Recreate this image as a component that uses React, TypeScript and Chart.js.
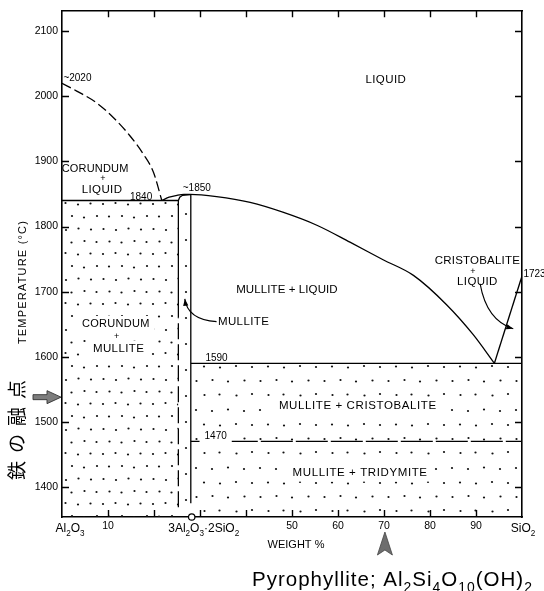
import React, { useEffect, useRef } from 'react';
import { Chart, registerables } from 'chart.js';

Chart.register(...registerables);

// ---------- axes ----------
const X_MIN = 0;
const X_MAX = 100;
const T_MIN = 1354;
const T_MAX = 2132;
const X_TICKS = [0, 10, 20, 30, 40, 50, 60, 70, 80, 90, 100];
const X_TICK_LABELS = ['', '10', '', '', '', '50', '60', '70', '80', '90', ''];
const Y_TICKS = [1400, 1500, 1600, 1700, 1800, 1900, 2000, 2100];

// ---------- phase boundaries (wt% SiO2, °C) ----------
const CORUNDUM_LIQ_X = [0, 3.2, 7.5, 11.2, 14.8, 17.7, 19.9, 21.7];
const CORUNDUM_LIQ_T = [2020, 2008, 1990, 1967, 1939, 1911, 1883, 1840];

const MULLITE_LIQ_X = [21.7, 23.3, 25.0, 26.5, 27.9, 33.6, 40.9, 48.0, 55.4, 62.6, 69.8, 76.4, 83.6, 89.4, 94.0];
const MULLITE_LIQ_T = [1840, 1845, 1848, 1849.5, 1849.5, 1846, 1837, 1822, 1802, 1776, 1749, 1725, 1680, 1634, 1590];

const CRISTOBALITE_LIQ_X = [94.0, 100];
const CRISTOBALITE_LIQ_T = [1590, 1724];

const SOLIDUS_1840_X = [0, 25.3];
const SOLIDUS_1840_T = [1840, 1840];

const MULLITE_LEFT_SOLID_X = [25.3, 25.3, 25.6, 26.2, 28.0];
const MULLITE_LEFT_SOLID_T = [1660, 1840, 1845, 1848, 1849];
const MULLITE_LEFT_DASH_X = [25.3, 25.3];
const MULLITE_LEFT_DASH_T = [1369, 1660];
const MULLITE_RIGHT_X = [28.0, 28.0];
const MULLITE_RIGHT_T = [1375, 1849];

const SOLIDUS_1590_X = [28.0, 100];
const SOLIDUS_1590_T = [1590, 1590];
const INVERSION_1470_X = [28.0, 100];
const INVERSION_1470_T = [1470, 1470];

const MULLITE_COMP = 28.2; // 3Al2O3·2SiO2
const IRON_MP = 1538; // melting point of iron
const PYRO_X = 70.2; // pyrophyllite marker

// ---------- annotations ----------
type Lbl = { text: string; x: number; t: number; size?: number; align?: CanvasTextAlign; bg?: boolean; ls?: number };
const LABELS: Lbl[] = [
  { text: 'LIQUID', x: 70.4, t: 2025 },
  { text: '~2020', x: 0.3, t: 2028, size: 10, align: 'left' },
  { text: 'CORUNDUM', x: 7.2, t: 1888, size: 11, ls: 0.2 },
  { text: '+', x: 8.9, t: 1873, size: 9 },
  { text: 'LIQUID', x: 8.7, t: 1857 },
  { text: '1840', x: 17.2, t: 1845, size: 10 },
  { text: '~1850', x: 29.3, t: 1859, size: 10 },
  { text: 'MULLITE + LIQUID', x: 48.9, t: 1703, ls: 0.1 },
  { text: 'MULLITE', x: 33.9, t: 1654, align: 'left' },
  { text: 'CRISTOBALITE', x: 90.3, t: 1747, ls: 0.2 },
  { text: '+', x: 89.3, t: 1731, size: 9 },
  { text: 'LIQUID', x: 90.3, t: 1715 },
  { text: '1723', x: 100.3, t: 1726, size: 10, align: 'left' },
  { text: 'CORUNDUM', x: 11.7, t: 1650, size: 11, ls: 0.3, bg: true },
  { text: '+', x: 11.9, t: 1631, size: 9, bg: true },
  { text: 'MULLITE', x: 12.3, t: 1612, bg: true },
  { text: '1590', x: 33.6, t: 1597, size: 10 },
  { text: 'MULLITE + CRISTOBALITE', x: 64.3, t: 1524.5, ls: 0.6, bg: true },
  { text: '1470', x: 33.4, t: 1478, size: 10, bg: true },
  { text: 'MULLITE + TRIDYMITE', x: 64.8, t: 1421.6, ls: 0.6, bg: true },
];

const FONT = "'Liberation Sans', Arial, sans-serif";

function pts(xs: number[], ts: number[]) {
  return xs.map((x, i) => ({ x, y: ts[i] }));
}

function dotPattern(w: number, h: number, dots: number[][], r = 1.1) {
  const c = document.createElement('canvas');
  c.width = w;
  c.height = h;
  const g = c.getContext('2d')!;
  g.fillStyle = '#111';
  for (const [x, y] of dots) {
    g.beginPath();
    g.arc(x, y, r, 0, Math.PI * 2);
    g.fill();
  }
  return g.createPattern(c, 'repeat')!;
}

function drawChem(ctx: CanvasRenderingContext2D, text: string, x: number, y: number, size: number, align: 'left' | 'center' | 'right') {
  // split into runs: digits following a letter or ')' become subscripts
  const runs: { s: string; sub: boolean }[] = [];
  let prev = '';
  for (const ch of text) {
    const isDigit = /[0-9]/.test(ch);
    const sub = isDigit && (/[A-Za-z)]/.test(prev) || (runs.length > 0 && runs[runs.length - 1].sub && /[0-9]/.test(prev)));
    if (runs.length && runs[runs.length - 1].sub === sub) runs[runs.length - 1].s += ch;
    else runs.push({ s: ch, sub });
    prev = ch;
  }
  const subSize = size * 0.68;
  let total = 0;
  const widths = runs.map((r) => {
    ctx.font = `${r.sub ? subSize : size}px ${FONT}`;
    const w = ctx.measureText(r.s).width;
    total += w;
    return w;
  });
  let cx = align === 'left' ? x : align === 'center' ? x - total / 2 : x - total;
  ctx.textAlign = 'left';
  ctx.textBaseline = 'alphabetic';
  runs.forEach((r, i) => {
    ctx.font = `${r.sub ? subSize : size}px ${FONT}`;
    ctx.fillText(r.s, cx, r.sub ? y + size * 0.3 : y);
    cx += widths[i];
  });
  return total;
}

function arrowHead(ctx: CanvasRenderingContext2D, fx: number, fy: number, tx: number, ty: number, len = 7, half = 2.6) {
  const a = Math.atan2(ty - fy, tx - fx);
  ctx.beginPath();
  ctx.moveTo(tx, ty);
  ctx.lineTo(tx - len * Math.cos(a) + half * Math.sin(a), ty - len * Math.sin(a) - half * Math.cos(a));
  ctx.lineTo(tx - len * Math.cos(a) - half * Math.sin(a), ty - len * Math.sin(a) + half * Math.cos(a));
  ctx.closePath();
  ctx.fill();
}

const overlay = {
  id: 'overlay',
  afterDatasetsDraw(chart: any) {
    const ctx: CanvasRenderingContext2D = chart.ctx;
    const xs = chart.scales.x;
    const ys = chart.scales.y;
    const ca = chart.chartArea;
    const px = (v: number) => xs.getPixelForValue(v);
    const py = (v: number) => ys.getPixelForValue(v);
    ctx.save();
    ctx.fillStyle = '#000';
    ctx.strokeStyle = '#000';

    // inward tick marks on all four sides
    ctx.lineWidth = 1.4;
    ctx.beginPath();
    for (const v of X_TICKS) {
      if (v === X_MIN || v === X_MAX) continue;
      const X = Math.round(px(v)) + 0.5;
      ctx.moveTo(X, ca.bottom);
      ctx.lineTo(X, ca.bottom - 7);
      ctx.moveTo(X, ca.top);
      ctx.lineTo(X, ca.top + 7);
    }
    for (const v of Y_TICKS) {
      const Y = Math.round(py(v)) + 0.5;
      ctx.moveTo(ca.left, Y);
      ctx.lineTo(ca.left + 7, Y);
      ctx.moveTo(ca.right, Y);
      ctx.lineTo(ca.right - 7, Y);
    }
    ctx.stroke();

    // region / point labels
    for (const l of LABELS) {
      const size = l.size ?? 11.5;
      ctx.font = `${size}px ${FONT}`;
      (ctx as any).letterSpacing = `${l.ls ?? (size >= 11 ? 0.4 : 0)}px`;
      const X = px(l.x);
      const Y = py(l.t);
      const align = l.align ?? 'center';
      const w = ctx.measureText(l.text).width;
      if (l.bg) {
        const left = align === 'left' ? X : X - w / 2;
        ctx.fillStyle = '#fff';
        ctx.fillRect(left - 5, Y - size * 0.75, w + 10, size * 1.5);
        ctx.fillStyle = '#000';
      }
      ctx.textAlign = align;
      ctx.textBaseline = 'middle';
      ctx.fillText(l.text, X, Y);
    }
    (ctx as any).letterSpacing = '0px';

    // leader: MULLITE
    ctx.lineWidth = 1.1;
    {
      const sx = px(33.6), sy = py(1654);
      const cx = px(27.3), cy = py(1657);
      const ex = px(26.7), ey = py(1689);
      ctx.beginPath();
      ctx.moveTo(sx, sy);
      ctx.quadraticCurveTo(cx, cy, ex, ey);
      ctx.stroke();
      arrowHead(ctx, cx, cy, ex, ey);
    }
    // leader: CRISTOBALITE + LIQUID
    {
      const sx = px(90.9), sy = py(1712);
      const cx = px(92.3), cy = py(1656);
      const ex = px(98.1), ey = py(1643);
      ctx.beginPath();
      ctx.moveTo(sx, sy);
      ctx.quadraticCurveTo(cx, cy, ex, ey);
      ctx.stroke();
      arrowHead(ctx, cx, cy, ex, ey);
    }

    // x-axis formula labels
    const labY = ca.bottom + 15;
    drawChem(ctx, 'Al2O3', px(X_MIN) + 8, labY, 12, 'center');
    drawChem(ctx, '3Al2O3·2SiO2', px(MULLITE_COMP) + 12, labY, 12, 'center');
    drawChem(ctx, 'SiO2', px(X_MAX) + 1, labY, 12, 'center');

    // x-axis title
    ctx.font = `11px ${FONT}`;
    ctx.textAlign = 'center';
    ctx.textBaseline = 'middle';
    ctx.fillText('WEIGHT %', (ca.left + ca.right) / 2 + 4, ca.bottom + 28);

    // y-axis title
    ctx.save();
    ctx.translate(23, 282);
    ctx.rotate(-Math.PI / 2);
    ctx.font = `11px ${FONT}`;
    (ctx as any).letterSpacing = '1.2px';
    ctx.fillText('TEMPERATURE (°C)', 0, 0);
    ctx.restore();

    // iron melting point
    ctx.save();
    ctx.translate(17, 480);
    ctx.rotate(-Math.PI / 2);
    ctx.font = `19px 'Noto Sans CJK JP', sans-serif`;
    (ctx as any).letterSpacing = '8px';
    ctx.textAlign = 'left';
    ctx.textBaseline = 'middle';
    ctx.fillText('鉄の融点', 0, 0);
    ctx.restore();
    {
      const Y = py(IRON_MP);
      ctx.fillStyle = '#7d7d7d';
      ctx.strokeStyle = '#333';
      ctx.lineWidth = 0.9;
      ctx.beginPath();
      ctx.moveTo(33, Y - 2.5);
      ctx.lineTo(47, Y - 2.5);
      ctx.lineTo(47, Y - 6.5);
      ctx.lineTo(ca.left - 1, Y);
      ctx.lineTo(47, Y + 6.5);
      ctx.lineTo(47, Y + 2.5);
      ctx.lineTo(33, Y + 2.5);
      ctx.closePath();
      ctx.fill();
      ctx.stroke();
    }

    // pyrophyllite marker
    {
      const X = px(PYRO_X);
      ctx.fillStyle = '#6e6e6e';
      ctx.strokeStyle = '#444';
      ctx.lineWidth = 0.8;
      ctx.beginPath();
      ctx.moveTo(X, 532);
      ctx.lineTo(X + 7.5, 555);
      ctx.lineTo(X, 550);
      ctx.lineTo(X - 7.5, 555);
      ctx.closePath();
      ctx.fill();
      ctx.stroke();
      ctx.fillStyle = '#000';
      (ctx as any).letterSpacing = '1px';
      drawChem(ctx, 'Pyrophyllite; Al2Si4O10(OH)2', 252, 586, 20.5, 'left');
      (ctx as any).letterSpacing = '0px';
    }
    ctx.restore();
  },
};

export default function App() {
  const ref = useRef<HTMLCanvasElement>(null);
  useEffect(() => {
    const canvas = ref.current!;
    const denseDots = dotPattern(50, 50, [
      [3, 4], [15.5, 3], [28, 4.5], [40.5, 3.5],
      [9, 16.5], [22, 16], [34, 17.5], [47, 16],
      [3.5, 29], [16, 30], [28.5, 28.5], [41, 29.5],
      [9.5, 41.5], [21.5, 42.5], [34.5, 41], [46.5, 42],
    ]);
    const sparseDots = dotPattern(64, 58, [
      [4, 4], [20, 5], [36, 3.5], [52, 5],
      [12, 18.5], [28, 19.5], [44, 18], [60, 19],
      [4.5, 33], [20.5, 32], [36, 33.5], [52.5, 32.5],
      [12.5, 47], [27.5, 46.5], [44.5, 47.5], [60, 46],
    ]);
    const columnDots = dotPattern(12, 26, [[6, 6]]);

    const line = (data: any[], extra: any = {}) => ({
      data,
      borderColor: '#000',
      borderWidth: 1.3,
      pointRadius: 0,
      fill: false,
      tension: 0,
      ...extra,
    });
    const fillRect = (data: any[], fill: any, pattern: CanvasPattern) => ({
      data,
      borderWidth: 0,
      borderColor: 'rgba(0,0,0,0)',
      backgroundColor: pattern,
      pointRadius: 0,
      fill,
    });

    const chart = new Chart(canvas, {
      type: 'line',
      data: {
        datasets: [
          { data: [{ x: MULLITE_COMP, y: T_MIN }], showLine: false, pointRadius: 3.2, pointBackgroundColor: '#fff', pointBorderColor: '#000', pointBorderWidth: 1.2, clip: false, order: -1 } as any,
          line(pts(CORUNDUM_LIQ_X, CORUNDUM_LIQ_T), { borderDash: [10, 4], cubicInterpolationMode: 'monotone' }),
          line(pts(MULLITE_LIQ_X, MULLITE_LIQ_T), { cubicInterpolationMode: 'monotone' }),
          line(pts(CRISTOBALITE_LIQ_X, CRISTOBALITE_LIQ_T)),
          line(pts(SOLIDUS_1840_X, SOLIDUS_1840_T)),
          line(pts(MULLITE_LEFT_SOLID_X, MULLITE_LEFT_SOLID_T)),
          line(pts(MULLITE_LEFT_DASH_X, MULLITE_LEFT_DASH_T), { borderDash: [16, 5] }),
          line(pts(MULLITE_RIGHT_X, MULLITE_RIGHT_T)),
          line(pts(SOLIDUS_1590_X, SOLIDUS_1590_T)),
          line(pts(INVERSION_1470_X, INVERSION_1470_T), { borderDash: [32, 3] }),
          fillRect(pts(SOLIDUS_1840_X, SOLIDUS_1840_T), 'start', denseDots),
          fillRect(pts([MULLITE_LEFT_SOLID_X[0], MULLITE_RIGHT_X[0]], SOLIDUS_1840_T), 'start', columnDots),
          fillRect(pts(SOLIDUS_1590_X, SOLIDUS_1590_T), { value: INVERSION_1470_T[0] }, sparseDots),
          fillRect(pts(INVERSION_1470_X, INVERSION_1470_T), 'start', sparseDots),
        ],
      },
      options: {
        animation: false,
        responsive: false,
        devicePixelRatio: 1,
        layout: { padding: { left: 0, top: 7, right: 22, bottom: 54 } },
        plugins: { legend: { display: false }, tooltip: { enabled: false } },
        scales: {
          x: {
            type: 'linear',
            position: 'bottom',
            min: X_MIN,
            max: X_MAX,
            afterBuildTicks: (s: any) => { s.ticks = X_TICKS.map((v) => ({ value: v })); },
            afterFit: (s: any) => { s.height = 20; },
            ticks: {
              autoSkip: false,
              maxRotation: 0,
              padding: 3,
              color: '#000',
              font: { family: FONT, size: 10.5 },
              callback: (v: any) => X_TICK_LABELS[X_TICKS.indexOf(Number(v))] ?? '',
            },
            grid: { display: false, drawTicks: false },
            border: { display: true, color: '#000', width: 1.6 },
          },
          x2: {
            type: 'linear',
            position: 'top',
            min: X_MIN,
            max: X_MAX,
            display: true,
            afterFit: (s: any) => { s.height = 0; },
            ticks: { display: false },
            grid: { display: false, drawTicks: false },
            border: { display: true, color: '#000', width: 1.6 },
          },
          y: {
            type: 'linear',
            position: 'left',
            min: T_MIN,
            max: T_MAX,
            afterBuildTicks: (s: any) => { s.ticks = Y_TICKS.map((v) => ({ value: v })); },
            afterFit: (s: any) => { s.width = 62; },
            ticks: {
              autoSkip: false,
              padding: 4,
              color: '#000',
              font: { family: FONT, size: 10.5 },
              callback: (v: any) => String(v),
            },
            grid: { display: false, drawTicks: false },
            border: { display: true, color: '#000', width: 1.6 },
          },
          y2: {
            type: 'linear',
            position: 'right',
            min: T_MIN,
            max: T_MAX,
            display: true,
            afterFit: (s: any) => { s.width = 0; },
            ticks: { display: false },
            grid: { display: false, drawTicks: false },
            border: { display: true, color: '#000', width: 1.6 },
          },
        },
      } as any,
      plugins: [overlay],
    });
    return () => chart.destroy();
  }, []);

  return (
    <div style={{ position: 'absolute', left: 0, top: 0, width: 544, height: 591, background: '#fff' }}>
      <canvas ref={ref} width={544} height={591} style={{ display: 'block', width: 544, height: 591 }} />
    </div>
  );
}
